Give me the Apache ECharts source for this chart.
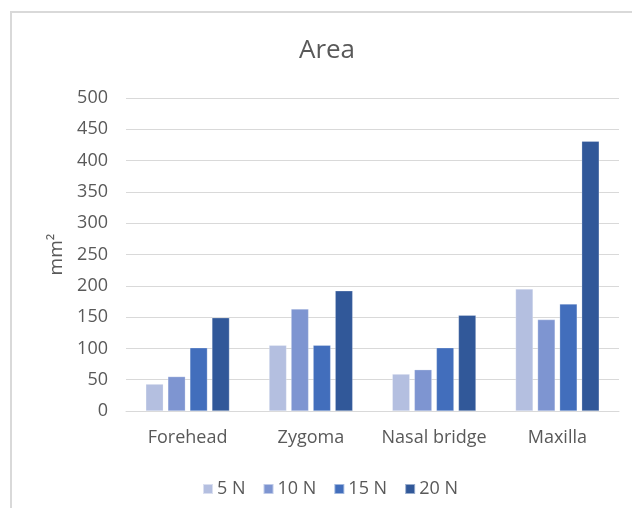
<!DOCTYPE html>
<html>
<head>
<meta charset="utf-8">
<script src="https://cdn.jsdelivr.net/npm/echarts@6/dist/echarts.min.js"></script>
<style>
  html, body { margin: 0; padding: 0; background: #fff; }
  #chart { width: 632px; height: 508px; }
</style>
</head>
<body>
<div id="chart"></div>
<script>
// Contact area at each site, for four applied loads
const categories = ['Forehead', 'Zygoma', 'Nasal bridge', 'Maxilla'];
const seriesNames = ['5 N', '10 N', '15 N', '20 N'];
const area5N  = [43, 105, 59, 195];
const area10N = [55, 163, 66, 146];
const area15N = [101, 105, 101, 171];
const area20N = [149, 192, 153, 431];
const colors = ['#B4BFE0', '#7E95D1', '#426EBC', '#315899'];

const font = 'Open Sans';
const textColor = '#595959';
const values = [area5N, area10N, area15N, area20N];

const chart = echarts.init(document.getElementById('chart'), null, { renderer: 'canvas' });

chart.setOption({
  animation: false,
  backgroundColor: '#fff',
  textStyle: { fontFamily: font },
  graphic: [{
    type: 'rect',
    shape: { x: 11, y: 12, width: 700, height: 600 },
    style: { fill: 'none', stroke: '#D9D9D9', lineWidth: 2 },
    silent: true
  }, {
    type: 'text',
    x: 327,
    y: 51,
    style: {
      text: 'Area',
      align: 'center',
      verticalAlign: 'middle',
      fontFamily: font,
      fontSize: 26,
      fill: textColor
    },
    silent: true
  }],
  legend: {
    data: seriesNames,
    left: 202,
    top: 480,
    padding: 0,
    icon: 'rect',
    itemWidth: 10,
    itemHeight: 10,
    itemGap: 17,
    textStyle: { fontFamily: font, fontSize: 18, color: textColor, padding: [0, 0, 0, -1] }
  },
  grid: { left: 126, right: 13, top: 98, bottom: 97, containLabel: false },
  xAxis: {
    type: 'category',
    data: categories,
    axisLine: { lineStyle: { color: '#D9D9D9', width: 1 } },
    axisTick: { show: false },
    axisLabel: { interval: 0, fontFamily: font, fontSize: 18, color: textColor, margin: 18 }
  },
  yAxis: {
    type: 'value',
    min: 0,
    max: 500,
    interval: 50,
    name: 'mm²',
    nameLocation: 'middle',
    nameGap: 60,
    nameRotate: 90,
    nameTextStyle: { fontFamily: font, fontSize: 19, color: textColor },
    axisLine: { show: false },
    axisTick: { show: false },
    axisLabel: { fontFamily: font, fontSize: 18, color: textColor, margin: 18 },
    splitLine: { lineStyle: { color: '#D9D9D9', width: 1 } }
  },
  series: seriesNames.map((name, i) => ({
    name: name,
    type: 'bar',
    data: values[i],
    barWidth: 17.5,
    barGap: '26%',
    itemStyle: { color: colors[i], borderColor: 'rgba(255,255,255,0.5)', borderWidth: 0.5 }
  }))
});
</script>
</body>
</html>
